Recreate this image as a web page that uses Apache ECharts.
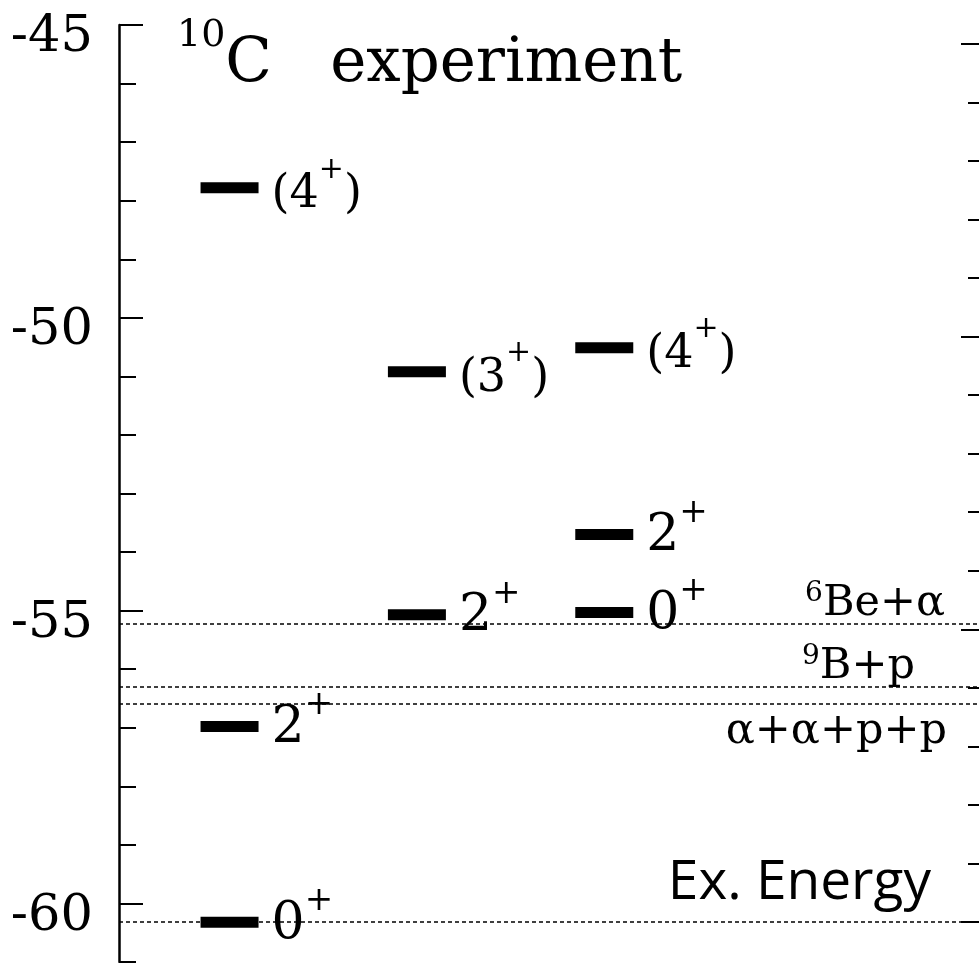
<!DOCTYPE html>
<html>
<head>
<meta charset="utf-8">
<script src="https://cdn.jsdelivr.net/npm/echarts@6/dist/echarts.min.js"></script>
<style>html,body{margin:0;padding:0;background:#fff;}#c{width:979px;height:963px;}</style>
</head>
<body>
<div id="c"></div>
<script>
// ---- data ----
const levelColumns = [0, 0, 0, 1, 1, 2, 2, 2];
const levelEnergies = [-60.32, -56.98, -47.78, -55.07, -50.92, -55.03, -53.70, -50.51];
const levelLabels = ['0+', '2+', '(4+)', '2+', '(3+)', '0+', '2+', '(4+)'];
const thresholdNames = ['6Be+α', '9B+p', 'α+α+p+p'];
const thresholdEnergies = [-55.22, -56.30, -56.59];
const groundEnergy = -60.32;
const leftAxisMin = -61, leftAxisMax = -45;
const leftMajorMin = -60;
const exTickMax = 15;

// ---- layout ----
const SERIF = 'DejaVu Serif';
const gTop = 25, gHeight = 937, gLeft = 119, gWidth = 860;
const pxPerUnit = gHeight / (leftAxisMax - leftAxisMin);
const yPix = v => gTop + (leftAxisMax - v) * pxPerUnit;

function richLevel(lbl) {
  const paren = lbl.startsWith('(');
  const core = lbl.replace(/[()]/g, '');
  const num = core.slice(0, -1), sign = core.slice(-1);
  if (paren) return '{pb|(' + num + '}{ps|' + sign + '}{pb|)}';
  return '{bb|' + num + '}{bs|' + sign + '}';
}
function richThreshold(name) {
  const m = name.match(/^(\d+)(.*)$/);
  if (m) return '{ts|' + m[1] + '}{tb|' + m[2] + '}';
  return '{tb|' + name + '}';
}

const levelData = levelColumns.map((c, i) => ({
  value: [c, levelEnergies[i]],
  name: levelLabels[i],
  label: { offset: [0, levelLabels[i].startsWith('(') ? 7 : 2] }
}));

const tbRich = {
  tb: { fontFamily: SERIF, fontSize: 43, lineHeight: 48, color: '#000' },
  ts: { fontFamily: SERIF, fontSize: 28, lineHeight: 20, verticalAlign: 'top', color: '#000' }
};

const markData = thresholdEnergies.map((e, i) => ({
  yAxis: e,
  label: {
    show: true,
    position: i < 2 ? 'insideEndTop' : 'insideEndBottom',
    distance: i === 0 ? [34, -4] : (i === 1 ? [64, -4] : [32, 4]),
    formatter: richThreshold(thresholdNames[i]),
    rich: tbRich
  }
}));
markData.push({ yAxis: groundEnergy, label: { show: false } });

const exTop = yPix(groundEnergy + exTickMax);
const exHeight = exTickMax * pxPerUnit;

const chart = echarts.init(document.getElementById('c'), null, { renderer: 'canvas' });
chart.setOption({
  backgroundColor: '#fff',
  animation: false,
  title: [{
    left: 172, top: 12,
    text: '{s|10}{b|C   experiment}',
    textStyle: {
      rich: {
        b: { fontFamily: SERIF, fontSize: 61, fontWeight: 'normal', lineHeight: 96, color: '#000' },
        s: { fontFamily: SERIF, fontSize: 38, fontWeight: 'normal', lineHeight: 40, verticalAlign: 'top', color: '#000' }
      }
    }
  }, {
    right: 43, top: 851,
    text: 'Ex. Energy',
    textStyle: { fontFamily: 'Open Sans', fontSize: 55, fontWeight: 'normal', color: '#000' }
  }],
  grid: [
    { left: gLeft, top: gTop, width: gWidth, height: gHeight },
    { left: gLeft, top: gTop, width: gWidth, height: (leftAxisMax - leftMajorMin) * pxPerUnit },
    { left: gLeft, top: exTop, width: gWidth, height: exHeight }
  ],
  xAxis: [
    { gridIndex: 0, type: 'value', min: -0.59, max: 4.0, show: false },
    { gridIndex: 1, type: 'value', min: 0, max: 1, show: false },
    { gridIndex: 2, type: 'value', min: 0, max: 1, show: false }
  ],
  yAxis: [
    {
      gridIndex: 0, type: 'value', position: 'left', min: leftAxisMin, max: leftAxisMax, interval: 1,
      axisLine: { show: true, onZero: false, lineStyle: { color: '#000', width: 2.5 } },
      axisTick: { show: true, inside: true, length: 17, lineStyle: { color: '#000', width: 2 } },
      axisLabel: { show: false }, splitLine: { show: false }
    },
    {
      gridIndex: 1, type: 'value', position: 'left', min: leftMajorMin, max: leftAxisMax, interval: 5,
      axisLine: { show: false, onZero: false },
      axisTick: { show: true, inside: true, length: 24, lineStyle: { color: '#000', width: 2 } },
      axisLabel: { show: true, margin: 26, fontFamily: SERIF, fontSize: 51, color: '#000', verticalAlign: 'top', lineHeight: 26 },
      splitLine: { show: false }
    },
    {
      gridIndex: 2, type: 'value', position: 'right', min: 0, max: exTickMax, interval: 5,
      axisLine: { show: false, onZero: false },
      axisTick: { show: true, inside: true, length: 18, lineStyle: { color: '#000', width: 2 } },
      minorTick: { show: true, splitNumber: 5, length: 11, lineStyle: { color: '#000', width: 2 } },
      axisLabel: { show: false }, splitLine: { show: false }
    }
  ],
  series: [{
    type: 'scatter',
    xAxisIndex: 0, yAxisIndex: 0,
    symbol: 'rect',
    symbolSize: [58, 11],
    itemStyle: { color: '#000', opacity: 1 },
    data: levelData,
    z: 5,
    label: {
      show: true,
      position: 'right',
      distance: 13,
      color: '#000',
      formatter: p => richLevel(p.name),
      rich: {
        bb: { fontFamily: SERIF, fontSize: 52, lineHeight: 80, color: '#000' },
        bs: { fontFamily: SERIF, fontSize: 34, lineHeight: 30, verticalAlign: 'top', color: '#000' },
        pb: { fontFamily: SERIF, fontSize: 46, lineHeight: 80, color: '#000' },
        ps: { fontFamily: SERIF, fontSize: 30, lineHeight: 28, verticalAlign: 'top', color: '#000' }
      }
    },
    markLine: {
      silent: true,
      symbol: ['none', 'none'],
      lineStyle: { color: '#000', type: [4, 3], width: 1.5, opacity: 1 },
      data: markData,
      z: 1
    }
  }]
});
</script>
</body>
</html>
